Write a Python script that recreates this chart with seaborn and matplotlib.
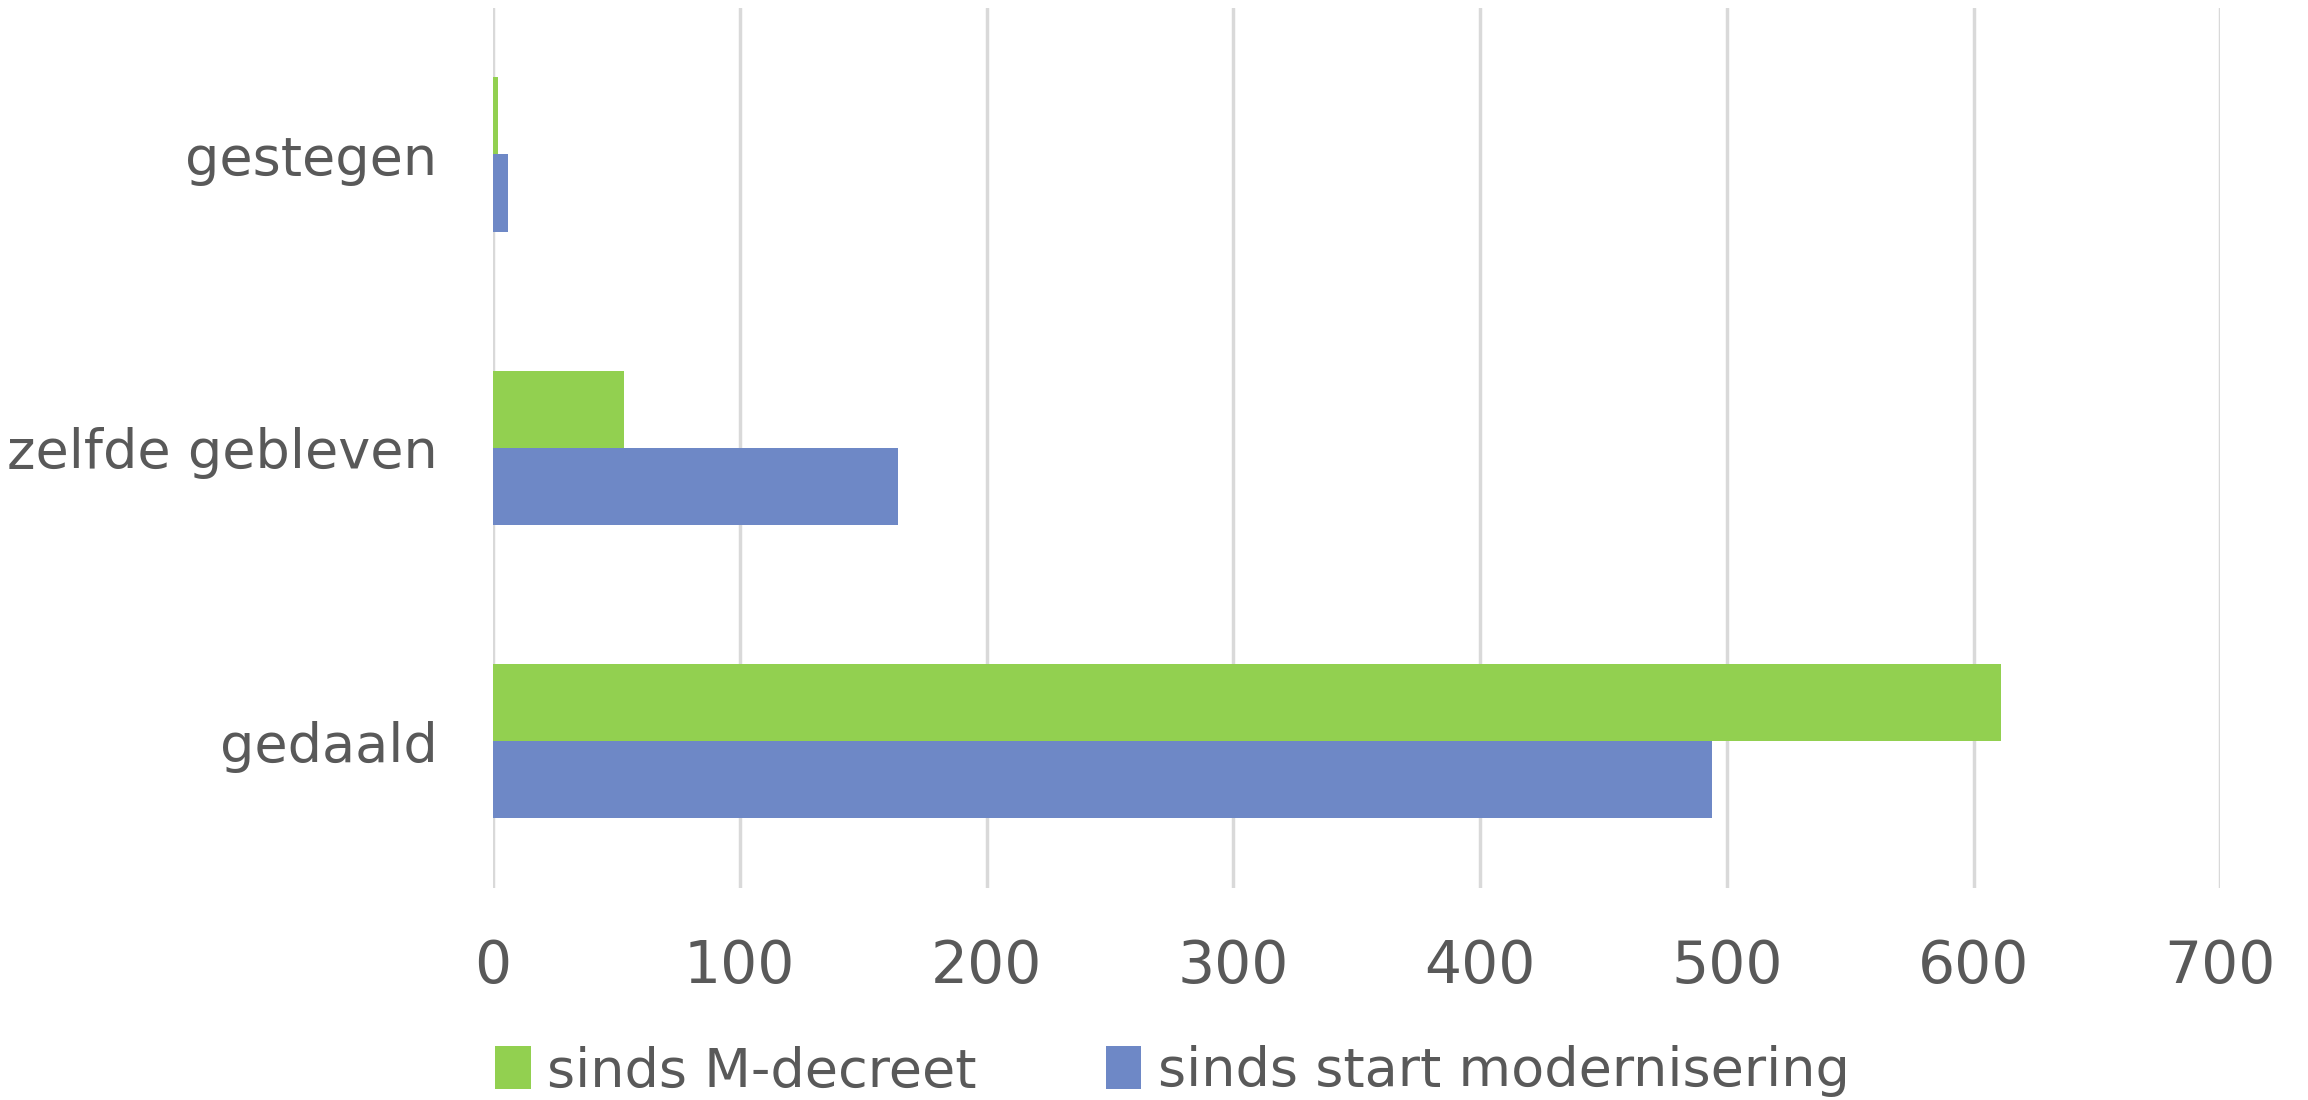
import pandas as pd
import matplotlib
matplotlib.use('Agg')
import matplotlib.pyplot as plt
import seaborn as sns

categories = ['gestegen', 'zelfde gebleven', 'gedaald']
series_names = ['sinds M-decreet', 'sinds start modernisering']
m_decreet = [2, 53, 611]
modernisering = [6, 164, 494]
x_ticks = [0, 100, 200, 300, 400, 500, 600, 700]

df = pd.DataFrame({
    'categorie': categories * 2,
    'reeks': [series_names[0]] * 3 + [series_names[1]] * 3,
    'aantal': m_decreet + modernisering,
})

sns.set_style('white')
plt.rcParams['font.family'] = ['DejaVu Sans']
text_color = '#595959'

fig = plt.figure(figsize=(23.08, 11), dpi=100)
ax = fig.add_axes([0.2136, 0.193, 0.962 - 0.2136, 0.993 - 0.193])

sns.barplot(data=df, x='aantal', y='categorie', hue='reeks', order=categories,
            hue_order=series_names, palette=['#92D050', '#6E88C6'],
            width=0.526, gap=0, orient='h', ax=ax, legend=True,
            saturation=1, linewidth=0)

ax.set_xlim(0, 700)
ax.set_xticks(x_ticks)
ax.set_xlabel('')
ax.set_ylabel('')
ax.grid(axis='x', color='#D9D9D9', linewidth=2.5)
ax.set_axisbelow(True)
for s in ax.spines.values():
    s.set_visible(False)
ax.tick_params(axis='y', length=0, labelsize=39, colors=text_color, pad=40)
ax.tick_params(axis='x', length=0, labelsize=42, colors=text_color, pad=36)

handles, labels = ax.get_legend_handles_labels()
ax.get_legend().remove()
fig.legend(handles, labels, loc='lower center', bbox_to_anchor=(0.508, -0.042), ncol=2,
           frameon=False, fontsize=39, labelcolor=text_color, handlelength=0.65,
           handleheight=0.85, handletextpad=0.3, columnspacing=2.4)

fig.savefig('out.png', dpi=100)
